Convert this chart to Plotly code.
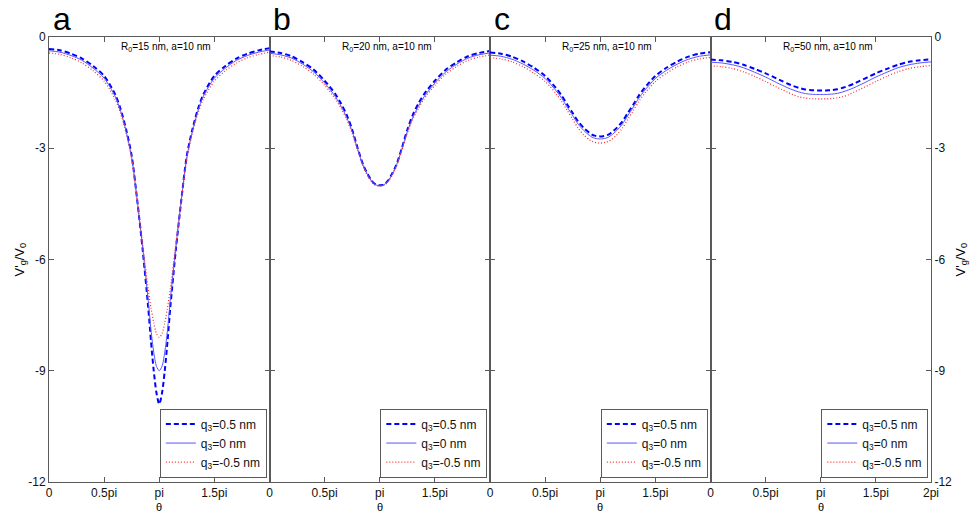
import plotly.graph_objects as go
from plotly.subplots import make_subplots

# theta in units of pi
theta = [0, 0.1, 0.2, 0.3, 0.4, 0.5, 0.6, 0.65, 0.7, 0.75, 0.8, 0.85, 0.9, 0.925, 0.95, 0.975, 1.0,
         1.025, 1.05, 1.075, 1.1, 1.15, 1.2, 1.25, 1.3, 1.35, 1.4, 1.5, 1.6, 1.7, 1.8, 1.9, 2.0]

# Panel a: R0=15 nm
a_q_pos = [-0.32, -0.36, -0.45, -0.58, -0.78, -1.05, -1.55, -1.95, -2.5, -3.2, -4.4, -5.75, -7.3, -8.2, -9.0, -9.6, -9.9,
           -9.6, -9.0, -8.2, -7.3, -5.75, -4.4, -3.2, -2.5, -1.95, -1.55, -1.05, -0.78, -0.58, -0.45, -0.36, -0.30]
a_q_zero = [-0.37, -0.41, -0.50, -0.63, -0.84, -1.11, -1.6, -2.0, -2.55, -3.25, -4.4, -5.7, -7.1, -7.9, -8.5, -8.88, -9.0,
            -8.88, -8.5, -7.9, -7.1, -5.7, -4.4, -3.25, -2.55, -2.0, -1.6, -1.11, -0.84, -0.63, -0.50, -0.41, -0.35]
a_q_neg = [-0.43, -0.47, -0.56, -0.70, -0.91, -1.19, -1.68, -2.07, -2.6, -3.3, -4.4, -5.6, -6.8, -7.3, -7.7, -8.0, -8.1,
           -8.0, -7.7, -7.3, -6.8, -5.6, -4.4, -3.3, -2.6, -2.07, -1.68, -1.19, -0.91, -0.70, -0.56, -0.47, -0.41]

# Panel b: R0=20 nm
b_q_pos = [-0.39, -0.43, -0.52, -0.68, -0.88, -1.18, -1.55, -1.8, -2.1, -2.5, -3.0, -3.45, -3.75, -3.87, -3.95, -3.99, -4.0,
           -3.99, -3.95, -3.87, -3.75, -3.45, -3.0, -2.5, -2.1, -1.8, -1.55, -1.18, -0.88, -0.68, -0.52, -0.43, -0.38]
b_q_zero = [-0.44, -0.48, -0.57, -0.73, -0.94, -1.24, -1.62, -1.87, -2.17, -2.55, -3.03, -3.47, -3.77, -3.88, -3.96, -4.0, -4.01,
            -4.0, -3.96, -3.88, -3.77, -3.47, -3.03, -2.55, -2.17, -1.87, -1.62, -1.24, -0.94, -0.73, -0.57, -0.48, -0.43]
b_q_neg = [-0.50, -0.54, -0.63, -0.79, -1.0, -1.3, -1.68, -1.93, -2.22, -2.6, -3.06, -3.5, -3.8, -3.9, -3.98, -4.01, -4.02,
           -4.01, -3.98, -3.9, -3.8, -3.5, -3.06, -2.6, -2.22, -1.93, -1.68, -1.3, -1.0, -0.79, -0.63, -0.54, -0.49]

# Panel c: R0=25 nm
c_q_pos = [-0.42, -0.45, -0.53, -0.66, -0.83, -1.05, -1.38, -1.58, -1.82, -2.05, -2.28, -2.45, -2.58, -2.63, -2.66, -2.675, -2.68,
           -2.675, -2.66, -2.63, -2.58, -2.45, -2.28, -2.05, -1.82, -1.58, -1.38, -1.05, -0.83, -0.66, -0.53, -0.45, -0.41]
c_q_zero = [-0.49, -0.52, -0.60, -0.73, -0.90, -1.12, -1.45, -1.65, -1.89, -2.12, -2.35, -2.52, -2.65, -2.70, -2.73, -2.745, -2.75,
            -2.745, -2.73, -2.70, -2.65, -2.52, -2.35, -2.12, -1.89, -1.65, -1.45, -1.12, -0.90, -0.73, -0.60, -0.52, -0.48]
c_q_neg = [-0.56, -0.59, -0.67, -0.80, -0.98, -1.20, -1.53, -1.74, -1.98, -2.22, -2.46, -2.64, -2.77, -2.81, -2.84, -2.855, -2.86,
           -2.855, -2.84, -2.81, -2.77, -2.64, -2.46, -2.22, -1.98, -1.74, -1.53, -1.20, -0.98, -0.80, -0.67, -0.59, -0.55]

# Panel d: R0=50 nm
d_q_pos = [-0.61, -0.63, -0.67, -0.75, -0.86, -0.98, -1.12, -1.19, -1.26, -1.32, -1.37, -1.41, -1.43, -1.435, -1.44, -1.44, -1.44,
           -1.44, -1.44, -1.435, -1.43, -1.41, -1.37, -1.32, -1.26, -1.19, -1.12, -0.98, -0.86, -0.75, -0.67, -0.63, -0.60]
d_q_zero = [-0.68, -0.70, -0.75, -0.83, -0.95, -1.08, -1.23, -1.30, -1.37, -1.43, -1.48, -1.52, -1.54, -1.545, -1.55, -1.55, -1.55,
            -1.55, -1.55, -1.545, -1.54, -1.52, -1.48, -1.43, -1.37, -1.30, -1.23, -1.08, -0.95, -0.83, -0.75, -0.70, -0.67]
d_q_neg = [-0.78, -0.80, -0.85, -0.94, -1.06, -1.20, -1.35, -1.42, -1.49, -1.56, -1.61, -1.64, -1.66, -1.665, -1.67, -1.67, -1.67,
           -1.67, -1.67, -1.665, -1.66, -1.64, -1.61, -1.56, -1.49, -1.42, -1.35, -1.20, -1.06, -0.94, -0.85, -0.80, -0.77]

panel_letters = ["a", "b", "c", "d"]
panel_titles = ["R<sub>0</sub>=15 nm, a=10 nm", "R<sub>0</sub>=20 nm, a=10 nm",
                "R<sub>0</sub>=25 nm, a=10 nm", "R<sub>0</sub>=50 nm, a=10 nm"]
series_names = ["q<sub>3</sub>=0.5 nm", "q<sub>3</sub>=0 nm", "q<sub>3</sub>=-0.5 nm"]
panel_data = [
    [a_q_pos, a_q_zero, a_q_neg],
    [b_q_pos, b_q_zero, b_q_neg],
    [c_q_pos, c_q_zero, c_q_neg],
    [d_q_pos, d_q_zero, d_q_neg],
]
x_tickvals = [0, 0.5, 1, 1.5, 2]
x_ticktext = ["0", "0.5pi", "pi", "1.5pi", "2pi"]
y_tickvals = [0, -3, -6, -9, -12]
y_ticktext = ["0", "-3", "-6", "-9", "-12"]

FONT = "Arial, Liberation Sans, Helvetica, sans-serif"
AXC = "#5a5a5a"
styles = [
    dict(color="#0000ff", width=2, dash="5px,3px"),
    dict(color="#5555ff", width=1, dash="solid"),
    dict(color="#ff2a2a", width=1.2, dash="1px,2px"),
]

fig = make_subplots(rows=1, cols=4, horizontal_spacing=0)

for i in range(4):
    leg = "legend" if i == 0 else f"legend{i+1}"
    for j in range(3):
        fig.add_trace(go.Scatter(
            x=theta, y=panel_data[i][j], mode="lines", name=series_names[j],
            line=dict(shape="spline", smoothing=0.8, **styles[j]), legend=leg, showlegend=True,
        ), row=1, col=i + 1)

    nt = 5 if i == 3 else 4
    fig.update_xaxes(range=[0, 2], tickvals=x_tickvals[:nt], ticktext=x_ticktext[:nt],
                     ticks="inside", ticklen=5, tickcolor=AXC, showline=True, linecolor=AXC,
                     linewidth=1, mirror="ticks", showgrid=False, zeroline=False,
                     tickfont=dict(family=FONT, size=12, color="#111"), row=1, col=i + 1)
    fig.update_yaxes(range=[-12, 0], tickvals=y_tickvals, ticktext=y_ticktext,
                     ticks="inside", ticklen=5, tickcolor=AXC, showline=True, linecolor=AXC,
                     linewidth=1, mirror="ticks", showgrid=False, zeroline=False,
                     showticklabels=(i in (0, 3)), side=("right" if i == 3 else "left"),
                     tickfont=dict(family=FONT, size=12, color="#111"), row=1, col=i + 1)

panel_w = 1.0 / 4
legend_layouts = {}
for i in range(4):
    key = "legend" if i == 0 else f"legend{i+1}"
    legend_layouts[key] = dict(
        x=(i + 1) * panel_w - 0.003, y=0.01, xanchor="right", yanchor="bottom",
        bgcolor="white", bordercolor=AXC, borderwidth=1,
        font=dict(family=FONT, size=12, color="#111"), itemwidth=30,
        tracegroupgap=0,
    )

annotations = []
for i in range(4):
    x0 = i * panel_w
    annotations.append(dict(text=panel_letters[i], x=x0 + 0.002, y=1.0, xref="paper", yref="paper",
                            xanchor="left", yanchor="bottom", yshift=-2, showarrow=False,
                            font=dict(family=FONT, size=32, color="black")))
    annotations.append(dict(text=panel_titles[i], x=x0 + panel_w / 2, y=1.0, xref="paper", yref="paper",
                            xanchor="center", yanchor="top", xshift=7, yshift=-2, showarrow=False,
                            font=dict(family=FONT, size=10, color="black")))
    annotations.append(dict(text="θ", x=x0 + panel_w / 2, y=0, xref="paper", yref="paper",
                            xanchor="center", yanchor="top", yshift=-17, showarrow=False,
                            font=dict(family=FONT, size=11, color="black")))

annotations.append(dict(text="V'<sub>g</sub>/V<sub>0</sub>", x=0, y=0.5, xref="paper", yref="paper",
                        xanchor="center", yanchor="middle", xshift=-29, textangle=-90, showarrow=False,
                        font=dict(family=FONT, size=13, color="black")))
annotations.append(dict(text="V'<sub>g</sub>/V<sub>0</sub>", x=1, y=0.5, xref="paper", yref="paper",
                        xanchor="center", yanchor="middle", xshift=30, textangle=-90, showarrow=False,
                        font=dict(family=FONT, size=13, color="black")))

# The page body has an 8px margin, so the figure is made 8px smaller and margins reduced.
fig.update_layout(
    width=970, height=509,
    margin=dict(l=41, r=47, t=29, b=35),
    paper_bgcolor="white", plot_bgcolor="white",
    font=dict(family=FONT, size=12, color="black"),
    annotations=annotations,
    **legend_layouts,
)

fig.write_html("out.html")
